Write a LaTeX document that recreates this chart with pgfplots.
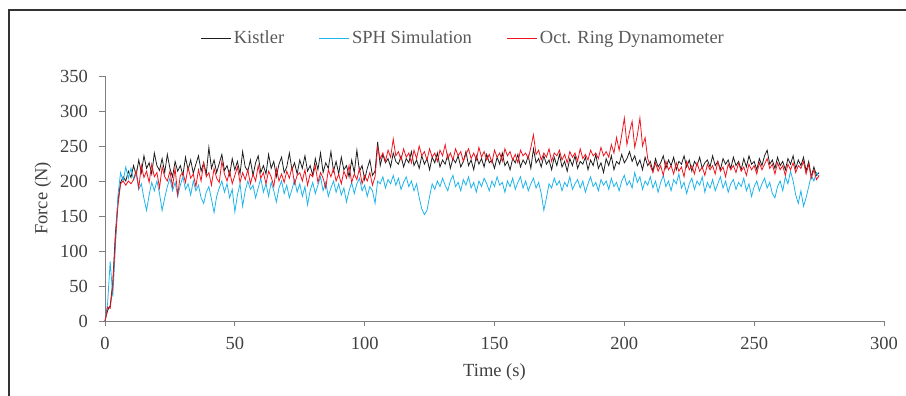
\documentclass[border=0pt]{standalone}
\usepackage{fontspec}
\setmainfont{Liberation Serif}
\usepackage{pgfplots}
\usepackage{pgfplotstable}
\pgfplotsset{compat=1.18}
\definecolor{kcol}{HTML}{1E1E1E}
\definecolor{scol}{HTML}{1FB4EC}
\definecolor{rcol}{HTML}{F0141E}
\definecolor{axcol}{HTML}{7F7F7F}
\definecolor{txtcol}{HTML}{404040}
\pgfplotstableread{
t K S R
0 0 0 0
1 15 25 20
2 22 85 18
3 55 35 50
4 125 105 115
5 172 180 165
6 198 212 196
7 206 200 200
8 200 220 194
9 214 204 200
10 205 218 196
11 222 202 202
12 208 210 215
13 230 188 190
14 212 196 222
15 236 175 205
16 218 158 214
17 226 180 198
18 210 198 224
19 240 186 206
20 222 200 212
21 215 182 190
22 232 158 220
23 212 176 206
24 238 192 200
25 218 204 214
26 206 186 192
27 228 198 218
28 214 178 180
29 222 194 208
30 208 206 212
31 234 188 198
32 216 196 220
33 230 180 204
34 211 200 210
35 224 186 192
36 236 194 216
37 214 176 200
38 226 168 226
39 210 184 206
40 248 192 212
41 218 174 194
42 230 155 218
43 212 178 204
44 225 190 198
45 238 200 228
46 215 184 210
47 222 196 200
48 208 176 214
49 232 188 196
50 216 156 208
51 228 180 220
52 210 196 198
53 242 164 212
54 220 186 202
55 214 200 216
56 230 188 196
57 208 194 210
58 226 176 200
59 236 190 222
60 212 204 204
61 222 184 212
62 210 196 196
63 238 178 214
64 218 198 206
65 228 186 192
66 206 170 218
67 224 190 200
68 234 200 210
69 212 182 198
70 220 194 214
71 240 176 204
72 216 188 220
73 226 202 196
74 210 184 208
75 230 196 212
76 218 178 200
77 236 192 216
78 214 166 194
79 222 186 210
80 208 198 206
81 232 182 222
82 216 194 198
83 240 206 212
84 212 186 204
85 226 198 190
86 218 178 216
87 242 190 206
88 214 200 218
89 228 184 200
90 210 196 210
91 234 180 196
92 216 190 214
93 222 170 204
94 206 186 222
95 230 198 198
96 212 182 210
97 244 196 202
98 214 204 218
99 222 186 196
100 202 194 208
101 218 178 200
102 230 192 212
103 208 186 194
104 214 168 206
105 256 200 248
106 222 196 232
107 238 206 240
108 226 190 228
109 232 202 244
110 220 196 234
111 240 208 260
112 228 194 236
113 224 204 242
114 236 188 230
115 220 198 246
116 232 206 234
117 226 192 240
118 242 200 226
119 222 186 244
120 230 196 232
121 218 176 250
122 236 160 236
123 224 152 242
124 232 158 230
125 216 178 246
126 234 196 234
127 226 188 240
128 240 200 228
129 220 192 244
130 230 204 236
131 224 194 252
132 238 186 232
133 218 200 240
134 232 208 230
135 226 192 246
136 236 198 236
137 220 186 242
138 228 202 228
139 242 194 238
140 222 206 246
141 230 190 232
142 216 198 240
143 236 184 230
144 224 200 248
145 232 192 234
146 220 204 242
147 238 196 230
148 226 186 238
149 230 200 226
150 218 192 244
151 234 206 234
152 224 194 240
153 240 198 228
154 222 184 246
155 228 200 236
156 216 192 242
157 232 204 230
158 226 188 238
159 238 198 226
160 220 206 244
161 230 190 236
162 224 200 240
163 236 186 232
164 218 196 248
165 246 204 266
166 226 190 238
167 232 198 244
168 220 182 230
169 236 158 240
170 224 176 234
171 230 196 246
172 216 190 228
173 234 204 240
174 222 194 236
175 238 200 244
176 220 186 230
177 228 198 238
178 214 192 226
179 232 206 242
180 222 188 234
181 236 196 240
182 218 202 228
183 228 190 246
184 224 200 232
185 234 184 238
186 216 196 230
187 230 206 244
188 222 192 236
189 238 198 240
190 218 186 232
191 226 202 248
192 212 194 236
193 232 200 242
194 222 188 234
195 236 204 252
196 216 192 240
197 228 198 262
198 224 186 244
199 238 200 266
200 226 208 290
201 232 194 252
202 242 200 270
203 228 190 285
204 236 212 248
205 222 198 265
206 230 206 290
207 216 188 250
208 234 200 262
209 222 194 232
210 228 206 222
211 214 190 212
212 232 200 226
213 220 184 214
214 226 198 222
215 236 208 208
216 218 192 228
217 230 200 216
218 222 186 222
219 234 202 210
220 216 196 226
221 228 210 214
222 224 190 220
223 236 198 206
224 220 182 228
225 230 196 216
226 214 204 222
227 228 188 210
228 222 200 226
229 234 194 214
230 218 206 220
231 226 184 208
232 230 198 224
233 220 190 216
234 236 202 222
235 222 186 210
236 228 196 228
237 216 206 214
238 232 190 220
239 224 200 206
240 230 184 224
241 218 196 216
242 234 202 222
243 222 188 212
244 228 198 226
245 216 192 214
246 232 204 220
247 220 186 208
248 236 196 224
249 224 178 216
250 228 192 222
251 216 200 210
252 232 186 226
253 222 196 216
254 236 204 224
255 244 190 232
256 224 198 218
257 230 182 224
258 218 176 210
259 234 192 226
260 222 200 216
261 228 186 222
262 216 206 208
263 232 196 224
264 224 214 216
265 236 200 226
266 218 180 212
267 230 168 222
268 222 186 218
269 234 164 228
270 214 176 210
271 228 192 224
272 206 208 204
273 220 200 216
274 208 212 202
275 212 205 208
}\data
\begin{document}
\begin{tikzpicture}
\useasboundingbox (0,0) rectangle (906pt,396pt);
\draw[line width=1.6pt, black!80] (9pt,-20pt) -- (9pt,386pt) -- (930pt,386pt);
\begin{axis}[
  at={(105pt,75pt)}, anchor=south west,
  width=779pt, height=245pt, scale only axis,
  xmin=0, xmax=300, ymin=0, ymax=350,
  xtick={0,50,...,300}, ytick={0,50,...,350},
  axis x line*=bottom, axis y line*=left,
  axis line style={axcol, line width=0.9pt, -},
  tick style={axcol, line width=0.9pt},
  tick align=outside, major tick length=5.5pt,
  /pgf/number format/assume math mode=true,
  ticklabel style={font=\fontsize{18.5}{22}\selectfont, text=txtcol},
  xticklabel style={anchor=north, yshift=-7pt},
  yticklabel style={anchor=east, xshift=-8pt},
  xlabel={Time (s)}, ylabel={Force (N)},
  every axis x label/.style={at={(axis description cs:0.5,-0.208)}, anchor=center,
    font=\fontsize{18.5}{22}\selectfont, text=txtcol},
  every axis y label/.style={at={(axis description cs:-0.0796,0.5)}, anchor=center, rotate=90,
    font=\fontsize{18.5}{22}\selectfont, text=txtcol},
  legend columns=-1,
  legend style={at={(0.46,1.155)}, anchor=center, draw=none, fill=none,
    font=\fontsize{18.5}{22}\selectfont, text=black!65, inner sep=0pt,
    /tikz/every even column/.append style={column sep=32pt},
    nodes={inner xsep=2.5pt, inner ysep=1.5pt}},
  legend image code/.code={\draw[#1, line width=1pt] (0pt,0pt) -- (30pt,0pt);},
  clip=false,
]
\addplot[kcol, line width=0.8pt] table[x=t, y=K] {\data};
\addlegendentry{Kistler}
\addplot[scol, line width=0.8pt] table[x=t, y=S] {\data};
\addlegendentry{SPH Simulation}
\addplot[rcol, line width=0.8pt] table[x=t, y=R] {\data};
\addlegendentry{Oct. Ring Dynamometer}
\end{axis}
\end{tikzpicture}
\end{document}
